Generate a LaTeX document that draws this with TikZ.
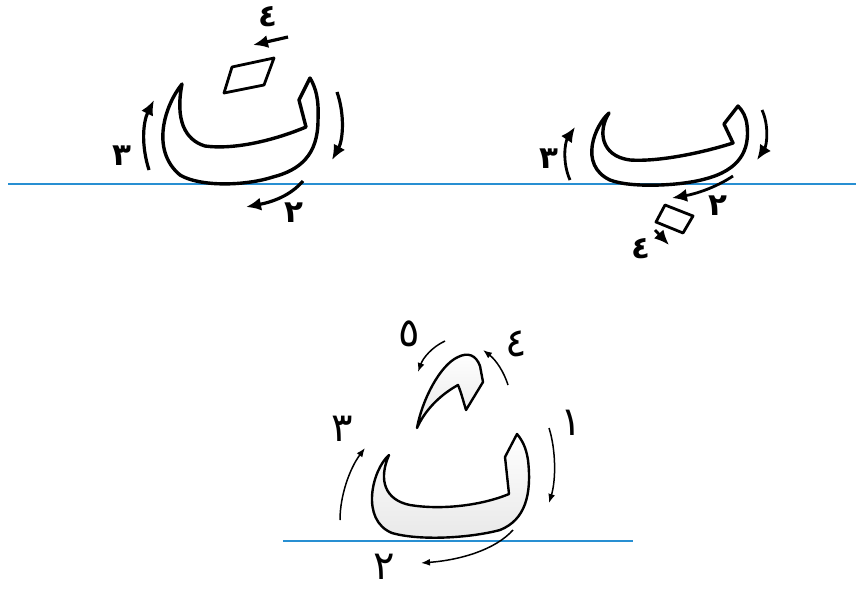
\documentclass[tikz,border=0pt]{standalone}
\usepackage{fontspec}
\usetikzlibrary{arrows.meta}
\newfontfamily\arabicfont[Script=Arabic]{DejaVu Sans}
\definecolor{baseblue}{RGB}{40,143,210}
\begin{document}
\begin{tikzpicture}[x=1pt,y=-1pt,
  baseline/.style={draw=baseblue,line width=2.4pt},
  letter/.style={draw=black,line width=3.4pt,line join=round},
  letterthin/.style={draw=black,line width=2.4pt,line join=round,top color=white,bottom color=black!9},
  bigarrow/.style={line width=3.2pt,-{Latex[length=15pt,width=13pt]}},
  smallarrow/.style={line width=1.5pt,-{Latex[length=9pt,width=7pt]}},
  digit/.style={font=\arabicfont\bfseries\fontsize{31}{34}\selectfont,inner sep=0pt},
  sdigit/.style={font=\arabicfont\fontsize{40}{44}\selectfont,inner sep=0pt}]
\useasboundingbox (0,0) rectangle (856,590);
% baselines
\draw[baseline] (8,184) -- (856,184);
\draw[baseline] (283,541) -- (633,541);

% ---------- letter 1 (top left) ----------
\draw[letter] (182,84) .. controls (165,105) and (150,150) .. (180,175)
  .. controls (200,187) and (245,186) .. (273,177)
  .. controls (300,170) and (318,155) .. (318,120)
  .. controls (319,100) and (316,88) .. (310,78)
  -- (299,100) -- (306,127)
  .. controls (275,140) and (235,150) .. (205,146)
  .. controls (185,140) and (175,120) .. (182,84) -- cycle;
\draw[letter,line width=2.8pt] (232,67) -- (274,58) -- (264,85) -- (224,93) -- cycle;
\node[digit] (t4) at (268,17) {٤};
\draw[bigarrow] (288,37) -- (253,45);
\node[digit] (t3) at (122,156) {٣};
\draw[bigarrow] (149,170) .. controls (141,145) and (143,122) .. (154,100);
\draw[bigarrow] (337,92) .. controls (345,115) and (343,140) .. (332,160);
\node[digit] (t2) at (294,213) {٢};
\draw[bigarrow] (303,181) .. controls (290,196) and (272,202) .. (246,207);

% ---------- letter 2 (top right) ----------
\draw[letter] (609,113) .. controls (595,125) and (578,165) .. (610,180)
  .. controls (630,188) and (680,186) .. (705,179)
  .. controls (740,170) and (750,150) .. (747,125)
  .. controls (746,117) and (743,111) .. (738,106)
  -- (724,124) -- (733,143)
  .. controls (705,152) and (660,162) .. (630,160)
  .. controls (600,156) and (598,130) .. (609,113) -- cycle;
\draw[letter,line width=2.8pt] (665,205) -- (693,216) -- (683,233) -- (656,222) -- cycle;
\draw[bigarrow,line width=2.8pt] (762,110) .. controls (769,125) and (767,145) .. (757,160);
\node[digit] (r3) at (549,159) {٣};
\draw[bigarrow,line width=2.8pt] (570,180) .. controls (562,162) and (565,142) .. (575,127);
\node[digit] (r2) at (718,206) {٢};
\draw[bigarrow,line width=2.8pt] (733,176) .. controls (715,188) and (695,194) .. (672,198);
\node[digit] (r4) at (641,249) {٤};
\draw[bigarrow,line width=2.8pt] (655,230) -- (669,245);

% ---------- letter 3 (bottom) ----------
\draw[letterthin] (389,455) .. controls (372,470) and (360,520) .. (392,533)
  .. controls (420,541) and (470,538) .. (500,530)
  .. controls (525,520) and (532,495) .. (528,460)
  .. controls (526,447) and (522,440) .. (517,434)
  -- (505,457) -- (509,494)
  .. controls (480,506) and (440,510) .. (410,505)
  .. controls (385,500) and (378,480) .. (389,455) -- cycle;
\draw[letterthin] (417,428) .. controls (422,400) and (440,365) .. (458,357)
  .. controls (468,352) and (476,355) .. (480,366)
  -- (483,382) -- (466,410)
  .. controls (463,400) and (461,392) .. (458,385)
  .. controls (440,395) and (425,410) .. (417,428) -- cycle;
\node[sdigit] (b5) at (409,334) {٥};
\draw[smallarrow] (445,341) .. controls (432,347) and (423,358) .. (418,372);
\node[sdigit] (b4) at (516,344) {٤};
\draw[smallarrow] (508,385) .. controls (504,372) and (496,360) .. (483,350);
\node[sdigit] (b1) at (571,423) {١};
\draw[smallarrow] (549,428) .. controls (556,450) and (556,480) .. (549,503);
\node[sdigit] (b3) at (342,429) {٣};
\draw[smallarrow] (340,520) .. controls (340,495) and (350,468) .. (365,448);
\node[sdigit] (b2) at (384,567) {٢};
\draw[smallarrow] (513,530) .. controls (495,550) and (460,560) .. (421,563);
\end{tikzpicture}
\end{document}
